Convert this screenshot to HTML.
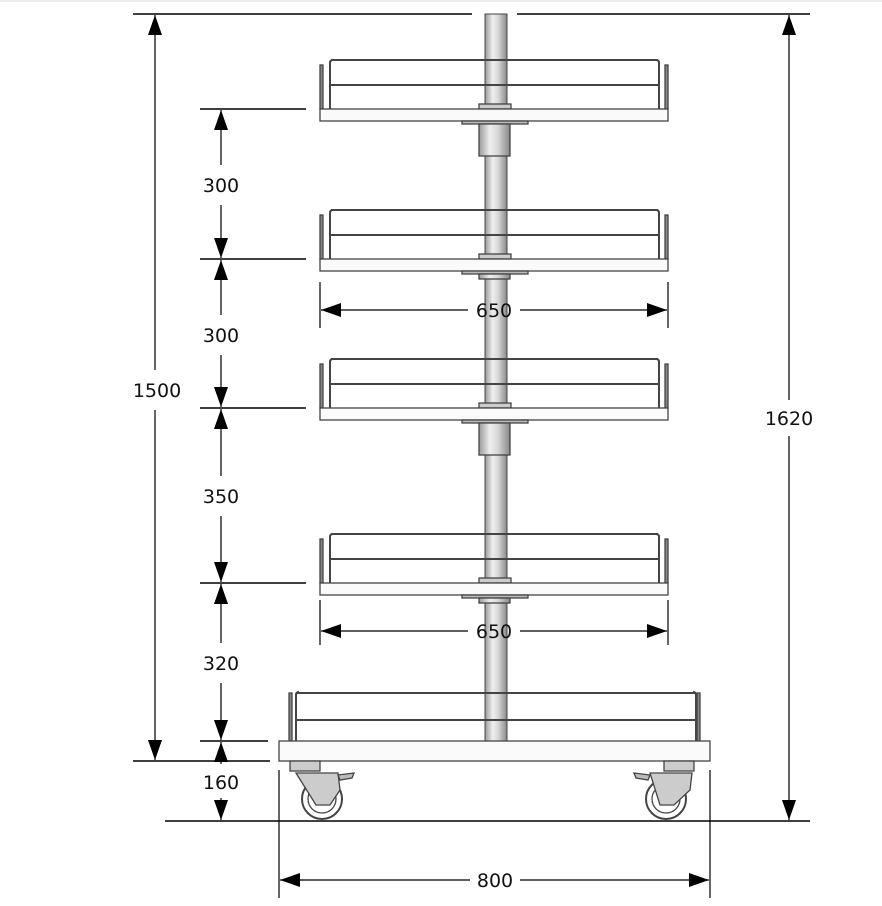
<!DOCTYPE html>
<html><head><meta charset="utf-8"><style>
html,body{margin:0;padding:0;background:#fff;}
svg{display:block;}
text{font-family:"DejaVu Sans","Liberation Sans",sans-serif;font-size:19px;fill:#111;text-anchor:middle;}
</style></head><body>
<svg width="882" height="906" viewBox="0 0 882 906" xmlns="http://www.w3.org/2000/svg">
<defs>
<linearGradient id="pole" x1="0" x2="1" y1="0" y2="0">
<stop offset="0" stop-color="#9a9a9a"/><stop offset="0.35" stop-color="#eeeeee"/><stop offset="0.6" stop-color="#d8d8d8"/><stop offset="1" stop-color="#888"/>
</linearGradient>
<marker id="a" viewBox="0 0 20 14" refX="20" refY="7" markerWidth="20" markerHeight="14" markerUnits="userSpaceOnUse" orient="auto-start-reverse"><path d="M0,0 L20,7 L0,14 z" fill="#000"/></marker>
</defs>
<rect x="0" y="0" width="882" height="906" fill="#fff"/>
<line x1="0" y1="1" x2="882" y2="1" stroke="#ddd"/>

<rect x="485" y="14" width="22" height="728" fill="url(#pole)" stroke="#444" stroke-width="1"/>

<g stroke="#444" stroke-width="1.3">
<g transform="translate(0,109)">
<path d="M331,-49 H658 M331,-24 H658" stroke-width="2"/>
<path d="M330,0 V-46 Q330,-49 333,-49 M659,0 V-46 Q659,-49 656,-49" fill="none" stroke-width="2"/>
<rect x="320" y="-44" width="3" height="44" fill="#888"/><rect x="665" y="-44" width="3" height="44" fill="#888"/>
<rect x="479" y="-5" width="32" height="5" fill="#ccc"/>
<rect x="320" y="0" width="348" height="12" fill="#fafafa"/>
<rect x="462" y="12" width="66" height="3" fill="#bbb"/>
</g>
<rect x="479" y="124" width="31" height="32" fill="url(#pole)"/>
<g transform="translate(0,259)">
<path d="M331,-49 H658 M331,-24 H658" stroke-width="2"/>
<path d="M330,0 V-46 Q330,-49 333,-49 M659,0 V-46 Q659,-49 656,-49" fill="none" stroke-width="2"/>
<rect x="320" y="-44" width="3" height="44" fill="#888"/><rect x="665" y="-44" width="3" height="44" fill="#888"/>
<rect x="479" y="-5" width="32" height="5" fill="#ccc"/>
<rect x="320" y="0" width="348" height="12" fill="#fafafa"/>
<rect x="462" y="12" width="66" height="3" fill="#bbb"/>
<rect x="479" y="15" width="31" height="5" fill="url(#pole)"/>
</g>
<g transform="translate(0,408)">
<path d="M331,-49 H658 M331,-24 H658" stroke-width="2"/>
<path d="M330,0 V-46 Q330,-49 333,-49 M659,0 V-46 Q659,-49 656,-49" fill="none" stroke-width="2"/>
<rect x="320" y="-44" width="3" height="44" fill="#888"/><rect x="665" y="-44" width="3" height="44" fill="#888"/>
<rect x="479" y="-5" width="32" height="5" fill="#ccc"/>
<rect x="320" y="0" width="348" height="12" fill="#fafafa"/>
<rect x="462" y="12" width="66" height="3" fill="#bbb"/>
<rect x="479" y="15" width="31" height="32" fill="url(#pole)"/>
</g>
<g transform="translate(0,583)">
<path d="M331,-49 H658 M331,-24 H658" stroke-width="2"/>
<path d="M330,0 V-46 Q330,-49 333,-49 M659,0 V-46 Q659,-49 656,-49" fill="none" stroke-width="2"/>
<rect x="320" y="-44" width="3" height="44" fill="#888"/><rect x="665" y="-44" width="3" height="44" fill="#888"/>
<rect x="479" y="-5" width="32" height="5" fill="#ccc"/>
<rect x="320" y="0" width="348" height="12" fill="#fafafa"/>
<rect x="462" y="12" width="66" height="3" fill="#bbb"/>
<rect x="479" y="15" width="31" height="5" fill="url(#pole)"/>
</g>
<path d="M297,693 H695 M297,720 H695" stroke-width="2"/>
<path d="M296,741 V695 Q296,692 299,692 M696,741 V695 Q696,692 693,692" fill="none" stroke-width="2"/>
<rect x="289" y="693" width="3" height="48" fill="#888"/><rect x="697" y="693" width="3" height="48" fill="#888"/>
<rect x="279" y="741" width="431" height="20" fill="#fafafa"/>
<rect x="290" y="761" width="30" height="10" fill="#ccc"/>
<rect x="664" y="761" width="30" height="10" fill="#ccc"/>
<circle cx="322" cy="799" r="20" fill="#fff" stroke-width="2"/>
<circle cx="322" cy="799" r="14" fill="#fff"/>
<circle cx="666" cy="799" r="20" fill="#fff" stroke-width="2"/>
<circle cx="666" cy="799" r="14" fill="#fff"/>
<path d="M296,773 L338,773 L340,790 L330,805 L316,805 Z" fill="#ccc"/>
<path d="M338,775 L354,773 L352,778 L340,780 Z" fill="#bbb"/>
<path d="M650,773 L692,773 L690,790 L674,805 L660,805 Z" fill="#ccc"/>
<path d="M650,775 L634,773 L636,778 L648,780 Z" fill="#bbb"/>
</g>

<g stroke="#000" stroke-width="1.4" fill="none">
<line x1="133" y1="14" x2="472" y2="14"/><line x1="517" y1="14" x2="810" y2="14"/>
<line x1="133" y1="761" x2="270" y2="761"/>
<line x1="165" y1="821" x2="810" y2="821"/>
<line x1="200" y1="109" x2="306" y2="109"/>
<line x1="200" y1="259" x2="306" y2="259"/>
<line x1="200" y1="408" x2="306" y2="408"/>
<line x1="200" y1="583" x2="306" y2="583"/>
<line x1="200" y1="741" x2="268" y2="741"/>
</g>
<g stroke="#000" stroke-width="1.2" fill="none">
<line x1="155" y1="15" x2="155" y2="370" marker-start="url(#a)"/>
<line x1="155" y1="410" x2="155" y2="760" marker-end="url(#a)"/>
<line x1="789" y1="15" x2="789" y2="400" marker-start="url(#a)"/>
<line x1="789" y1="436" x2="789" y2="820" marker-end="url(#a)"/>
<line x1="221" y1="110" x2="221" y2="165" marker-start="url(#a)"/>
<line x1="221" y1="205" x2="221" y2="258" marker-end="url(#a)"/>
<line x1="221" y1="260" x2="221" y2="315" marker-start="url(#a)"/>
<line x1="221" y1="355" x2="221" y2="407" marker-end="url(#a)"/>
<line x1="221" y1="409" x2="221" y2="476" marker-start="url(#a)"/>
<line x1="221" y1="516" x2="221" y2="582" marker-end="url(#a)"/>
<line x1="221" y1="584" x2="221" y2="643" marker-start="url(#a)"/>
<line x1="221" y1="683" x2="221" y2="740" marker-end="url(#a)"/>
<line x1="221" y1="742" x2="221" y2="764" marker-start="url(#a)"/>
<line x1="221" y1="798" x2="221" y2="820" marker-end="url(#a)"/>
<line x1="320" y1="282" x2="320" y2="328"/><line x1="668" y1="282" x2="668" y2="328"/>
<line x1="321" y1="310" x2="468" y2="310" marker-start="url(#a)"/>
<line x1="520" y1="310" x2="667" y2="310" marker-end="url(#a)"/>
<line x1="320" y1="600" x2="320" y2="645"/><line x1="668" y1="600" x2="668" y2="645"/>
<line x1="321" y1="631" x2="468" y2="631" marker-start="url(#a)"/>
<line x1="520" y1="631" x2="667" y2="631" marker-end="url(#a)"/>
<line x1="279" y1="770" x2="279" y2="898"/><line x1="710" y1="770" x2="710" y2="898"/>
<line x1="280" y1="880" x2="470" y2="880" marker-start="url(#a)"/>
<line x1="520" y1="880" x2="709" y2="880" marker-end="url(#a)"/>
</g>
<g>
<text x="157" y="397">1500</text>
<text x="789" y="425">1620</text>
<text x="221" y="192">300</text>
<text x="221" y="342">300</text>
<text x="221" y="503">350</text>
<text x="221" y="670">320</text>
<text x="221" y="789">160</text>
<text x="494" y="317">650</text>
<text x="494" y="638">650</text>
<text x="495" y="887">800</text>
</g>
</svg>
</body></html>
